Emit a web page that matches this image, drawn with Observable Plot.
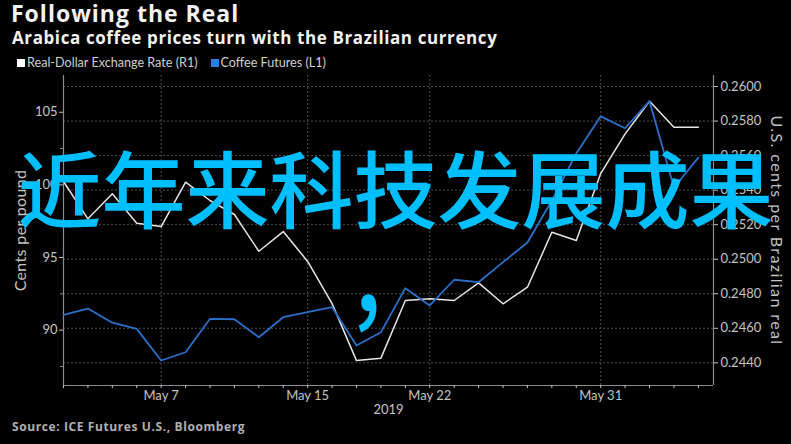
<!DOCTYPE html>
<html><head><meta charset="utf-8">
<script src="https://cdn.jsdelivr.net/npm/d3@7"></script>
<script src="https://cdn.jsdelivr.net/npm/@observablehq/plot@0.6"></script>
<style>
html,body{margin:0;padding:0;background:#000;}
body{width:791px;height:444px;position:relative;overflow:hidden;font-family:"Open Sans",sans-serif;}
#title{position:absolute;left:11px;top:0px;font-weight:700;font-size:23px;letter-spacing:1px;line-height:26px;color:#f2f2f2;white-space:nowrap;}
#subtitle{position:absolute;left:12px;top:27px;font-weight:700;font-size:17px;letter-spacing:0.6px;line-height:22px;color:#f2f2f2;white-space:nowrap;}
#legend{position:absolute;left:17px;top:55px;font-family:Lato,sans-serif;font-size:12.6px;line-height:16px;color:#cfcfcf;white-space:nowrap;display:flex;align-items:center;}
#legend .item{display:flex;align-items:center;margin-right:13px;}
#legend .sw{width:8px;height:8px;margin-right:2px;display:inline-block;}
#chart{position:absolute;left:0;top:70px;}
#source{position:absolute;left:12px;top:419px;font-weight:700;font-size:12px;letter-spacing:0.6px;line-height:16px;color:#b0b0b0;white-space:nowrap;}
#overlay{position:absolute;left:0;top:142px;width:791px;text-align:center;font-family:"Noto Sans CJK SC",sans-serif;font-size:84px;line-height:87px;color:#00bfff;font-weight:500;pointer-events:none;}
#overlay .comma{position:relative;left:-7px;top:1px;display:inline-block;transform:scaleY(1.25);}
</style></head>
<body>
<div id="title">Following the Real</div>
<div id="subtitle">Arabica coffee prices turn with the Brazilian currency</div>
<div id="legend"></div>
<div id="chart"></div>
<div id="source">Source: ICE Futures U.S., Bloomberg</div>
<div id="overlay">近年来科技发展成果<br><span class="comma">，</span></div>
<script>
// Trading days shown on the chart
const dates = ["2019-05-01","2019-05-02","2019-05-03","2019-05-06","2019-05-07","2019-05-08","2019-05-09","2019-05-10","2019-05-13","2019-05-14","2019-05-15","2019-05-16","2019-05-17","2019-05-20","2019-05-21","2019-05-22","2019-05-23","2019-05-24","2019-05-27","2019-05-28","2019-05-29","2019-05-30","2019-05-31","2019-06-03","2019-06-04","2019-06-05","2019-06-06"];
// Coffee futures, cents per pound (left axis, L1)
const coffee = [91.06,91.49,90.51,90.09,87.91,88.48,90.78,90.75,89.51,90.89,91.24,91.58,88.94,89.86,92.89,91.70,93.47,93.30,94.68,96.03,98.92,102.16,104.72,103.90,105.76,99.82,101.88];
// Real-dollar exchange rate, U.S. cents per real (right axis, R1)
const real = [0.25450,0.25234,0.25379,0.25208,0.25189,0.25446,0.25340,0.25259,0.25046,0.25160,0.24987,0.24743,0.24413,0.24427,0.24761,0.24771,0.24761,0.24863,0.24742,0.24838,0.25156,0.25108,0.25496,0.25726,0.25915,0.25764,0.25764];

const seriesNames = ["Real-Dollar Exchange Rate (R1)", "Coffee Futures (L1)"];
const seriesColors = ["#e6e6e6", "#2a6fc9"];
const legendColors = ["#ffffff", "#2b7de0"];

const leftTicks = [90, 95, 100, 105];
const leftMinorTicks = [87.5, 92.5, 97.5, 102.5];
const rightTicks = [0.2440, 0.2460, 0.2480, 0.2500, 0.2520, 0.2540, 0.2560, 0.2580, 0.2600];
const xTickDates = ["2019-05-07", "2019-05-15", "2019-05-22", "2019-05-31"];
const xTickLabels = ["May 7", "May 15", "May 22", "May 31"];
const xAxisTitle = "2019";
const leftTitle = "Cents per pound";
const rightTitle = "U.S. cents per Brazilian real";

// scale settings
const leftDomain = [86.19, 107.53];
const rightDomain = [0.242687, 0.26064];
const xDomain = [0, 26.62];

const toLeft = d3.scaleLinear().domain(rightDomain).range(leftDomain);

const rows = dates.map((d, i) => ({i, date: d, coffee: coffee[i], real: toLeft(real[i])}));
const labelMap = new Map(xTickDates.map((d, k) => [dates.indexOf(d), xTickLabels[k]]));
const gridX = xTickDates.map(d => dates.indexOf(d));

// legend
const legend = document.getElementById("legend");
seriesNames.forEach((n, k) => {
  const it = document.createElement("span"); it.className = "item";
  const sw = document.createElement("span"); sw.className = "sw"; sw.style.background = legendColors[k];
  const tx = document.createElement("span"); tx.textContent = n;
  it.appendChild(sw); it.appendChild(tx); legend.appendChild(it);
});

const axisColor = "#8c8c8c";
const labelColor = "#c4c4c4";
const gridColor = "#4d4d4d";

const chart = Plot.plot({
  width: 791,
  height: 350,
  marginTop: 5,
  marginBottom: 35,
  marginLeft: 63,
  marginRight: 78,
  style: {background: "#000", color: labelColor, fontFamily: "Lato, sans-serif", fontSize: "13px"},
  x: {type: "linear", domain: xDomain},
  y: {domain: leftDomain},
  marks: [
    Plot.ruleY(rightTicks.map(toLeft), {stroke: gridColor, strokeDasharray: "2,2"}),
    Plot.ruleX(gridX, {stroke: gridColor, strokeDasharray: "2,2"}),
    Plot.ruleX(xDomain, {stroke: axisColor, strokeWidth: 1.2}),
    Plot.ruleY([leftDomain[0]], {stroke: axisColor, strokeWidth: 1.2}),
    Plot.lineY(rows, {x: "i", y: "real", stroke: seriesColors[0], strokeWidth: 1.5}),
    Plot.lineY(rows, {x: "i", y: "coffee", stroke: seriesColors[1], strokeWidth: 1.8}),
    Plot.axisY({anchor: "left", ticks: leftTicks, tickSize: 4, tickPadding: 2, label: null, color: labelColor, fontSize: 13}),
    Plot.axisY({anchor: "left", ticks: leftMinorTicks, tickSize: 3, tickFormat: () => "", label: null, color: axisColor}),
    Plot.axisY({anchor: "right", ticks: rightTicks.map(toLeft), tickSize: 4, tickPadding: 3, label: null, color: labelColor, fontSize: 13,
      tickFormat: v => toLeft.invert(v).toFixed(4)}),
    Plot.axisX({ticks: rows.map(r => r.i), tickSize: 3, tickPadding: 2, label: null, color: labelColor, fontSize: 13,
      tickFormat: i => labelMap.get(i) ?? ""}),
    Plot.text([xAxisTitle], {frameAnchor: "bottom", dy: 28, fill: labelColor, fontSize: 13}),
    Plot.text([leftTitle], {frameAnchor: "left", dx: -43, rotate: -90, textAnchor: "middle", fill: labelColor, fontSize: 16}),
    Plot.text([rightTitle], {frameAnchor: "right", dx: 63, rotate: 90, textAnchor: "middle", fill: labelColor, fontSize: 16})
  ]
});
// letter spacing for the axis titles
chart.querySelectorAll("text").forEach(t => {
  if (t.textContent === rightTitle) t.setAttribute("letter-spacing", "1.4");
  if (t.textContent === leftTitle) t.setAttribute("letter-spacing", "0.35");
});
document.getElementById("chart").appendChild(chart);
</script>
</body></html>
